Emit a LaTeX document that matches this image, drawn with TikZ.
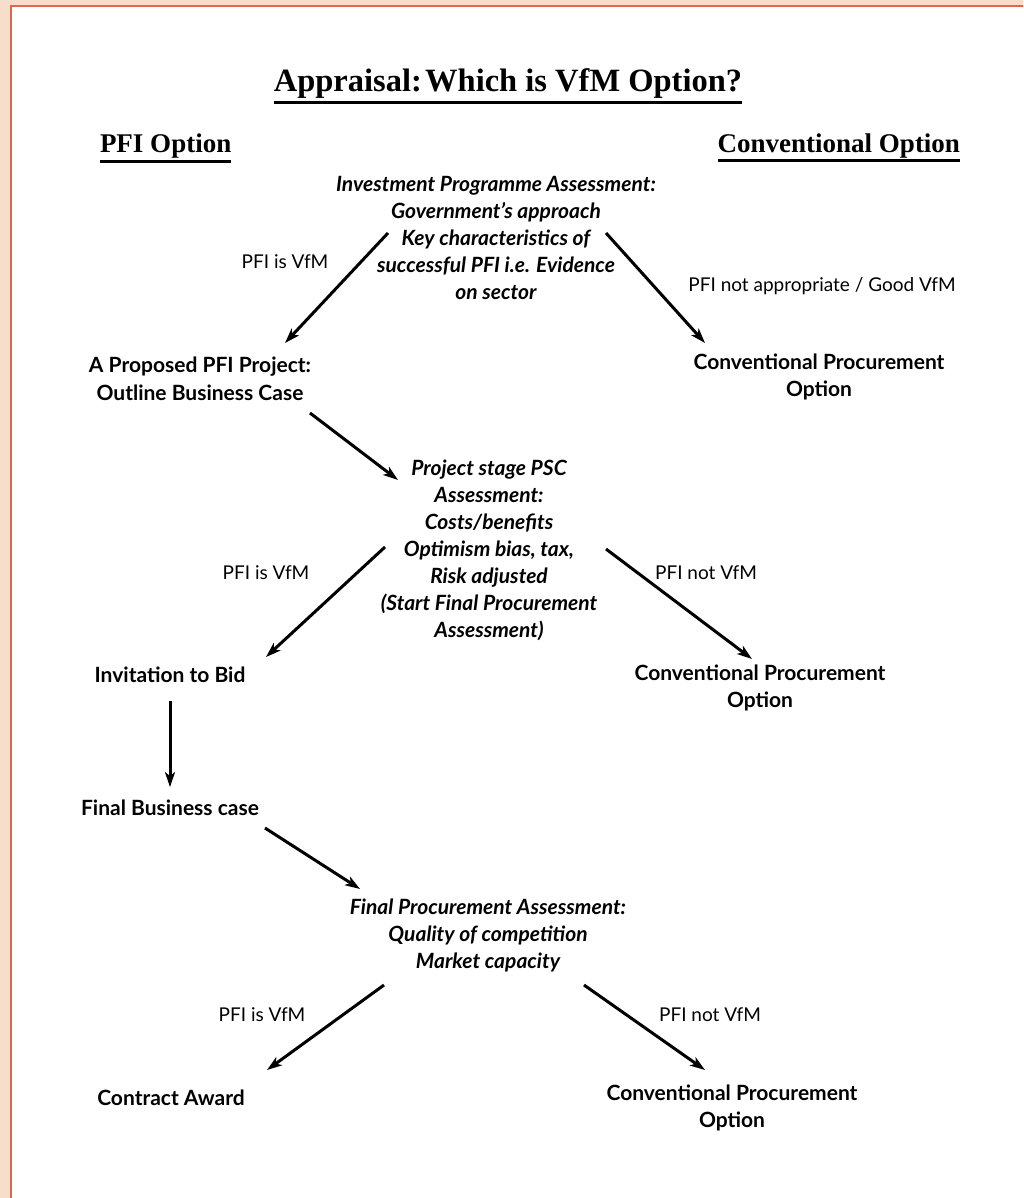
\documentclass[tikz,border=0pt]{standalone}
\usepackage{fontspec}
\setmainfont{Lato}
\newfontfamily\titlefont{Liberation Serif}
\usetikzlibrary{arrows.meta}
\definecolor{peach}{RGB}{246,221,204}
\definecolor{frameline}{RGB}{222,104,72}
\begin{document}
\begin{tikzpicture}[x=1pt,y=-1pt,
  every node/.style={inner sep=0pt, outer sep=0pt},
  bigtitle/.style={font=\titlefont\bfseries\fontsize{32.5}{38}\selectfont},
  head/.style={font=\titlefont\bfseries\fontsize{27}{32}\selectfont},
  assess/.style={font=\bfseries\itshape\fontsize{21}{27}\selectfont, align=center},
  result/.style={font=\bfseries\fontsize{21}{27.5}\selectfont, align=center},
  lbl/.style={font=\fontsize{19}{23}\selectfont},
  flow/.style={line width=3pt, -{Stealth[length=15pt,width=10pt,inset=4pt]}},
  uline/.style={line width=3pt}]
\useasboundingbox (0,0) rectangle (1023,1198);
\clip (0,0) rectangle (1023,1198);
\fill[peach] (0,0) rectangle (1023,1198);
\draw[frameline, line width=2pt, fill=white] (11,6.5) rectangle (1060,1240);

% headings
\node[bigtitle, anchor=base] (title) at (508,92) {Appraisal:\hspace{0.1em}Which is VfM Option?};
\draw[uline] ([yshift=-11pt]title.base west) -- ([yshift=-11pt]title.base east);
\node[head, anchor=base west] (pfihead) at (100,153) {PFI Option};
\draw[uline] ([yshift=-9pt]pfihead.base west) -- ([yshift=-9pt]pfihead.base east);
\node[head, anchor=base east] (convhead) at (960,153) {Conventional Option};
\draw[uline] ([yshift=-8pt]convhead.base west) -- ([yshift=-8pt]convhead.base east);

% stage 1
\node[assess] (ipa) at (496,238) {Investment Programme Assessment:\\Government's approach\\Key characteristics of\\successful PFI i.e. Evidence\\on sector};
\node[result] (obc) at (200,379) {A Proposed PFI Project:\\Outline Business Case};
\node[result] (conv1) at (819,377) {Conventional Procurement\\Option};
\node[lbl] (l1) at (285,262) {PFI is VfM};
\node[lbl] (r1) at (822,286) {PFI not appropriate / Good VfM};
\coordinate (a1s) at (388,233); \coordinate (a1e) at (285,343);
\coordinate (b1s) at (606,233); \coordinate (b1e) at (705,343);
\draw[flow] (a1s) -- (a1e);
\draw[flow] (b1s) -- (b1e);

% stage 2
\node[assess] (psc) at (489,550) {Project stage PSC\\Assessment:\\Costs/benefits\\Optimism bias, tax,\\Risk adjusted\\(Start Final Procurement\\Assessment)};
\coordinate (c1s) at (310,413); \coordinate (c1e) at (398,480);
\draw[flow] (c1s) -- (c1e);
\node[result] (itb) at (170,675) {Invitation to Bid};
\node[result] (conv2) at (760,688) {Conventional Procurement\\Option};
\node[lbl] (l2) at (266,573) {PFI is VfM};
\node[lbl] (r2) at (706,573) {PFI not VfM};
\coordinate (a2s) at (385,547); \coordinate (a2e) at (266,657);
\coordinate (b2s) at (606,549); \coordinate (b2e) at (752,659);
\draw[flow] (a2s) -- (a2e);
\draw[flow] (b2s) -- (b2e);

% stage 3
\node[result] (fbc) at (170,808) {Final Business case};
\draw[flow] ([yshift=-18pt]itb.south) -- ([yshift=13pt]fbc.north);
\node[assess] (fpa) at (488,935) {Final Procurement Assessment:\\Quality of competition\\Market capacity};
\coordinate (c2s) at (265,828); \coordinate (c2e) at (360,889);
\draw[flow] (c2s) -- (c2e);
\node[result] (award) at (171,1098) {Contract Award};
\node[result] (conv3) at (732,1108) {Conventional Procurement\\Option};
\node[lbl] (l3) at (262,1015) {PFI is VfM};
\node[lbl] (r3) at (710,1015) {PFI not VfM};
\coordinate (a3s) at (384,985); \coordinate (a3e) at (267,1070);
\coordinate (b3s) at (584,985); \coordinate (b3e) at (705,1070);
\draw[flow] (a3s) -- (a3e);
\draw[flow] (b3s) -- (b3e);
\end{tikzpicture}
\end{document}
